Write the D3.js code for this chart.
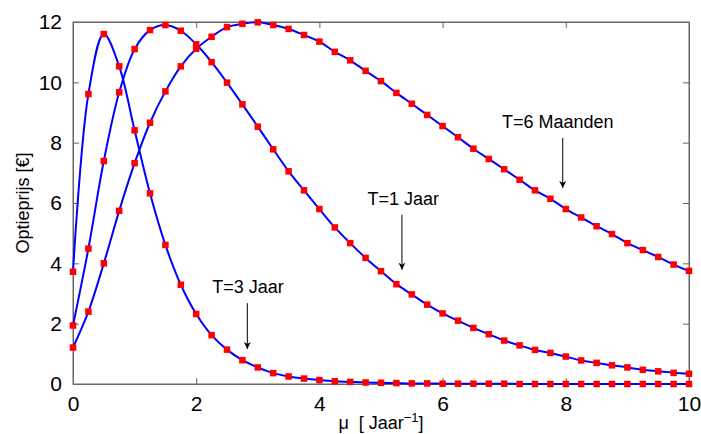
<!DOCTYPE html>
<html>
<head>
<meta charset="utf-8">
<script src="https://cdn.jsdelivr.net/npm/d3@7"></script>
<style>
  html, body { margin: 0; padding: 0; background: #fff; }
  svg { display: block; font-family: "Liberation Sans", Arial, sans-serif; }
</style>
</head>
<body>
<svg id="chart" width="701" height="434"></svg>
<script>
// ---- data ----
const muValues = d3.range(0, 41).map(i => i * 0.25);
// T=3 Jaar
const seriesT3 = [3.72, 9.61, 11.6, 10.53, 8.41, 6.32, 4.61, 3.29, 2.32, 1.62, 1.14, 0.79,
  0.55, 0.36, 0.25, 0.18, 0.13, 0.09, 0.07, 0.05, 0.04, 0.03, 0.02, 0.02, 0.01, 0.01, 0.01,
  0.01, 0.01, 0.0, 0.0, 0.0, 0.0, 0.0, 0.0, 0.0, 0.0, 0.0, 0.0, 0.0, 0.0];
// T=1 Jaar
const seriesT1 = [1.94, 4.49, 7.39, 9.67, 11.1, 11.73, 11.9, 11.71, 11.26, 10.67, 9.99, 9.27,
  8.53, 7.78, 7.05, 6.42, 5.80, 5.19, 4.67, 4.18, 3.74, 3.31, 2.97, 2.63, 2.34, 2.10, 1.86,
  1.65, 1.44, 1.28, 1.13, 1.03, 0.91, 0.78, 0.70, 0.62, 0.55, 0.47, 0.42, 0.37, 0.34];
// T=6 Maanden
const seriesT6 = [1.21, 2.40, 4.0, 5.74, 7.32, 8.66, 9.70, 10.53, 11.11, 11.51, 11.83, 11.94,
  11.99, 11.90, 11.77, 11.57, 11.35, 11.01, 10.73, 10.38, 10.04, 9.65, 9.29, 8.92, 8.55, 8.18,
  7.80, 7.46, 7.12, 6.77, 6.42, 6.14, 5.80, 5.52, 5.23, 4.97, 4.67, 4.44, 4.21, 3.96, 3.75];
const xTicks = [0, 2, 4, 6, 8, 10];
const yTicks = [0, 2, 4, 6, 8, 10, 12];
const annotations = [
  { text: "T=6 Maanden", labelMu: 7.87, mu: 7.95, labelV: 8.49, tipV: 6.5 },
  { text: "T=1 Jaar", labelMu: 5.36, mu: 5.34, labelV: 5.94, tipV: 3.79 },
  { text: "T=3 Jaar", labelMu: 2.84, mu: 2.83, labelV: 3.01, tipV: 1.16 }
];

// ---- layout ----
const W = 701, H = 434;
const margin = { left: 73, top: 22, right: 12, bottom: 50 };
const svg = d3.select("#chart");
const x = d3.scaleLinear().domain([0, 10]).range([margin.left, W - margin.right]);
const y = d3.scaleLinear().domain([0, 12]).range([H - margin.bottom, margin.top]);
const axisColor = "#666";

// box
svg.append("rect")
  .attr("x", x(0)).attr("y", y(12))
  .attr("width", x(10) - x(0)).attr("height", y(0) - y(12))
  .attr("fill", "none").attr("stroke", axisColor).attr("stroke-width", 1);

// axes (ticks inward)
const gx = svg.append("g").attr("transform", `translate(0,${y(0)})`)
  .call(d3.axisBottom(x).tickValues(xTicks).tickSizeInner(-6).tickSizeOuter(0).tickPadding(12));
const gxTop = svg.append("g").attr("transform", `translate(0,${y(12)})`)
  .call(d3.axisTop(x).tickValues(xTicks).tickSizeInner(-6).tickSizeOuter(0).tickFormat(""));
const gy = svg.append("g").attr("transform", `translate(${x(0)},0)`)
  .call(d3.axisLeft(y).tickValues(yTicks).tickSizeInner(-6).tickSizeOuter(0).tickPadding(11));
const gyR = svg.append("g").attr("transform", `translate(${x(10)},0)`)
  .call(d3.axisRight(y).tickValues(yTicks).tickSizeInner(-6).tickSizeOuter(0).tickFormat(""));
[gx, gxTop, gy, gyR].forEach(g => {
  g.select(".domain").attr("stroke", axisColor);
  g.selectAll(".tick line").attr("stroke", axisColor);
  g.selectAll("text").attr("fill", "#000").attr("font-size", 21)
    .attr("font-family", "Liberation Sans, Arial, sans-serif");
});
gx.selectAll("text").attr("dy", "0.71em");

// curves
const series = [seriesT6, seriesT1, seriesT3];
const line = d3.line()
  .x((d, i) => x(muValues[i]))
  .y(d => y(d))
  .curve(d3.curveCatmullRom.alpha(0.5));
const ms = 6.5;
series.forEach(s => {
  svg.append("path").datum(s).attr("d", line)
    .attr("fill", "none").attr("stroke", "#0000ff").attr("stroke-width", 2);
});
series.forEach(s => {
  svg.append("g").selectAll("rect").data(s).join("rect")
    .attr("x", (d, i) => x(muValues[i]) - ms / 2)
    .attr("y", d => y(d) - ms / 2)
    .attr("width", ms).attr("height", ms)
    .attr("fill", "#ff0000");
});

// annotations
svg.append("defs").append("marker")
  .attr("id", "arrow").attr("viewBox", "0 0 10 10")
  .attr("refX", 10).attr("refY", 5)
  .attr("markerWidth", 7).attr("markerHeight", 8).attr("markerUnits", "userSpaceOnUse")
  .attr("orient", "auto")
  .append("path").attr("d", "M0,0 L10,5 L0,10 L3,5 Z").attr("fill", "#000");
annotations.forEach(a => {
  svg.append("text")
    .attr("x", x(a.labelMu)).attr("y", y(a.labelV))
    .attr("text-anchor", "middle").attr("font-size", 18).attr("fill", "#000")
    .text(a.text);
  svg.append("line")
    .attr("x1", x(a.mu)).attr("x2", x(a.mu))
    .attr("y1", y(a.labelV) + 10).attr("y2", y(a.tipV))
    .attr("stroke", "#000").attr("stroke-width", 1)
    .attr("marker-end", "url(#arrow)");
});

// axis labels
const xl = svg.append("text")
  .attr("x", 381).attr("y", 429)
  .attr("text-anchor", "middle").attr("font-size", 18).attr("fill", "#000");
xl.append("tspan").text("μ\u00A0\u00A0[\u00A0Jaar");
xl.append("tspan").attr("dy", -7).attr("font-size", 13).text("−1");
xl.append("tspan").attr("dy", 7).text("]");

svg.append("text")
  .attr("transform", `translate(29,${(y(0) + y(12)) / 2}) rotate(-90)`)
  .attr("text-anchor", "middle").attr("font-size", 18).attr("fill", "#000")
  .text("Optieprijs [€]");
</script>
</body>
</html>
